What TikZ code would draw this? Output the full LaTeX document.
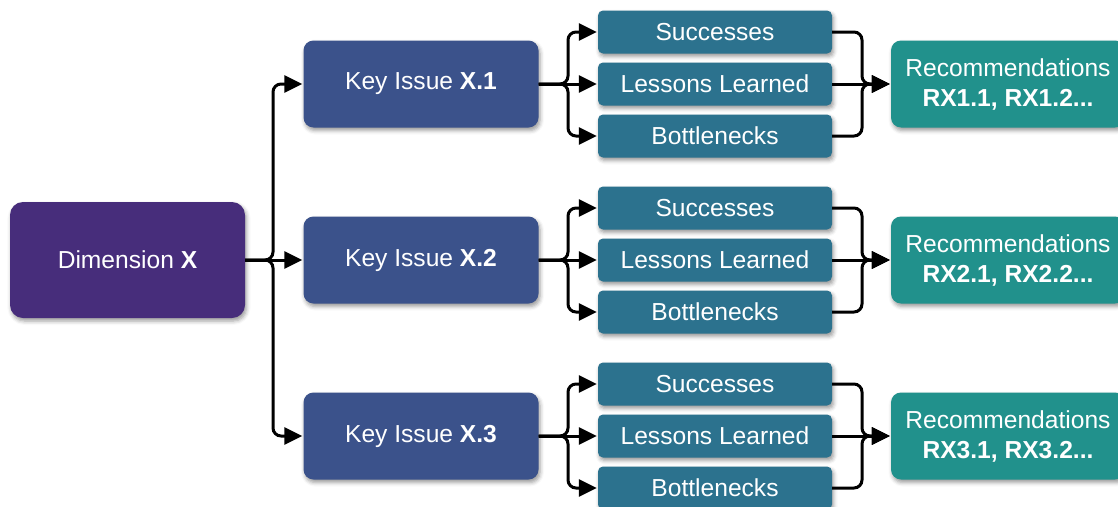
\documentclass[tikz,border=0pt]{standalone}
\usepackage{fontspec}
\setmainfont{Liberation Sans}
\usetikzlibrary{arrows.meta,shadows.blur}

\definecolor{dimc}{HTML}{472D7B}
\definecolor{keyc}{HTML}{3B528B}
\definecolor{subc}{HTML}{2C728E}
\definecolor{recc}{HTML}{21918C}

\tikzset{
  box/.style={rectangle, text=white, inner sep=0pt, align=center,
    font=\fontsize{24.6}{30}\selectfont,
    blur shadow={shadow xshift=1.5pt, shadow yshift=-3pt,
                 shadow blur radius=4pt, shadow opacity=40}},
  dimbox/.style={box, fill=dimc, minimum width=235pt, minimum height=116pt, rounded corners=13pt},
  keybox/.style={box, fill=keyc, minimum width=235pt, minimum height=87pt, rounded corners=10pt},
  subbox/.style={box, fill=subc, minimum width=234pt, minimum height=43pt, rounded corners=5pt},
  recbox/.style={box, fill=recc, minimum width=234pt, minimum height=87pt, rounded corners=10pt},
  link/.style={line width=3pt, rounded corners=8pt, shorten >=1pt,
    -{Triangle[length=18pt,width=17pt]}},
}

\begin{document}
\begin{tikzpicture}[x=1pt, y=-1pt]
  \useasboundingbox (0,0) rectangle (1118,506);
  \clip (0,0) rectangle (1118,506);

  % root node
  \node[dimbox] (dim) at (127.5,260) {Dimension \textbf{X}};
  \coordinate (j0) at (273,260);

  % one row per key issue
  \foreach \i/\y in {1/84,2/260,3/436} {
    \node[keybox] (k\i) at (421,\y) {Key Issue \textbf{X.\i}};
    \node[subbox] (s\i) at (715,\y-52) {Successes};
    \node[subbox] (l\i) at (715,\y) {Lessons Learned};
    \node[subbox] (b\i) at (715,\y+52) {Bottlenecks};
    \node[recbox] (r\i) at (1008,\y) {Recommendations\\\textbf{RX\i.1, RX\i.2...}};
    \coordinate (a\i) at (568,\y);
    \coordinate (m\i) at (862,\y);
  }

  % root to key issues
  \draw[link] (dim.east) -- (j0) |- (k1.west);
  \draw[link] (dim.east) -- (k2.west);
  \draw[link] (dim.east) -- (j0) |- (k3.west);

  % key issues to their review boxes, review boxes to recommendations
  \foreach \i in {1,2,3} {
    \draw[link] (k\i.east) -- (a\i) |- (s\i.west);
    \draw[link] (k\i.east) -- (l\i.west);
    \draw[link] (k\i.east) -- (a\i) |- (b\i.west);
    \draw[link] (s\i.east) -| (m\i) -- (r\i.west);
    \draw[link] (l\i.east) -- (r\i.west);
    \draw[link] (b\i.east) -| (m\i) -- (r\i.west);
  }
\end{tikzpicture}
\end{document}
